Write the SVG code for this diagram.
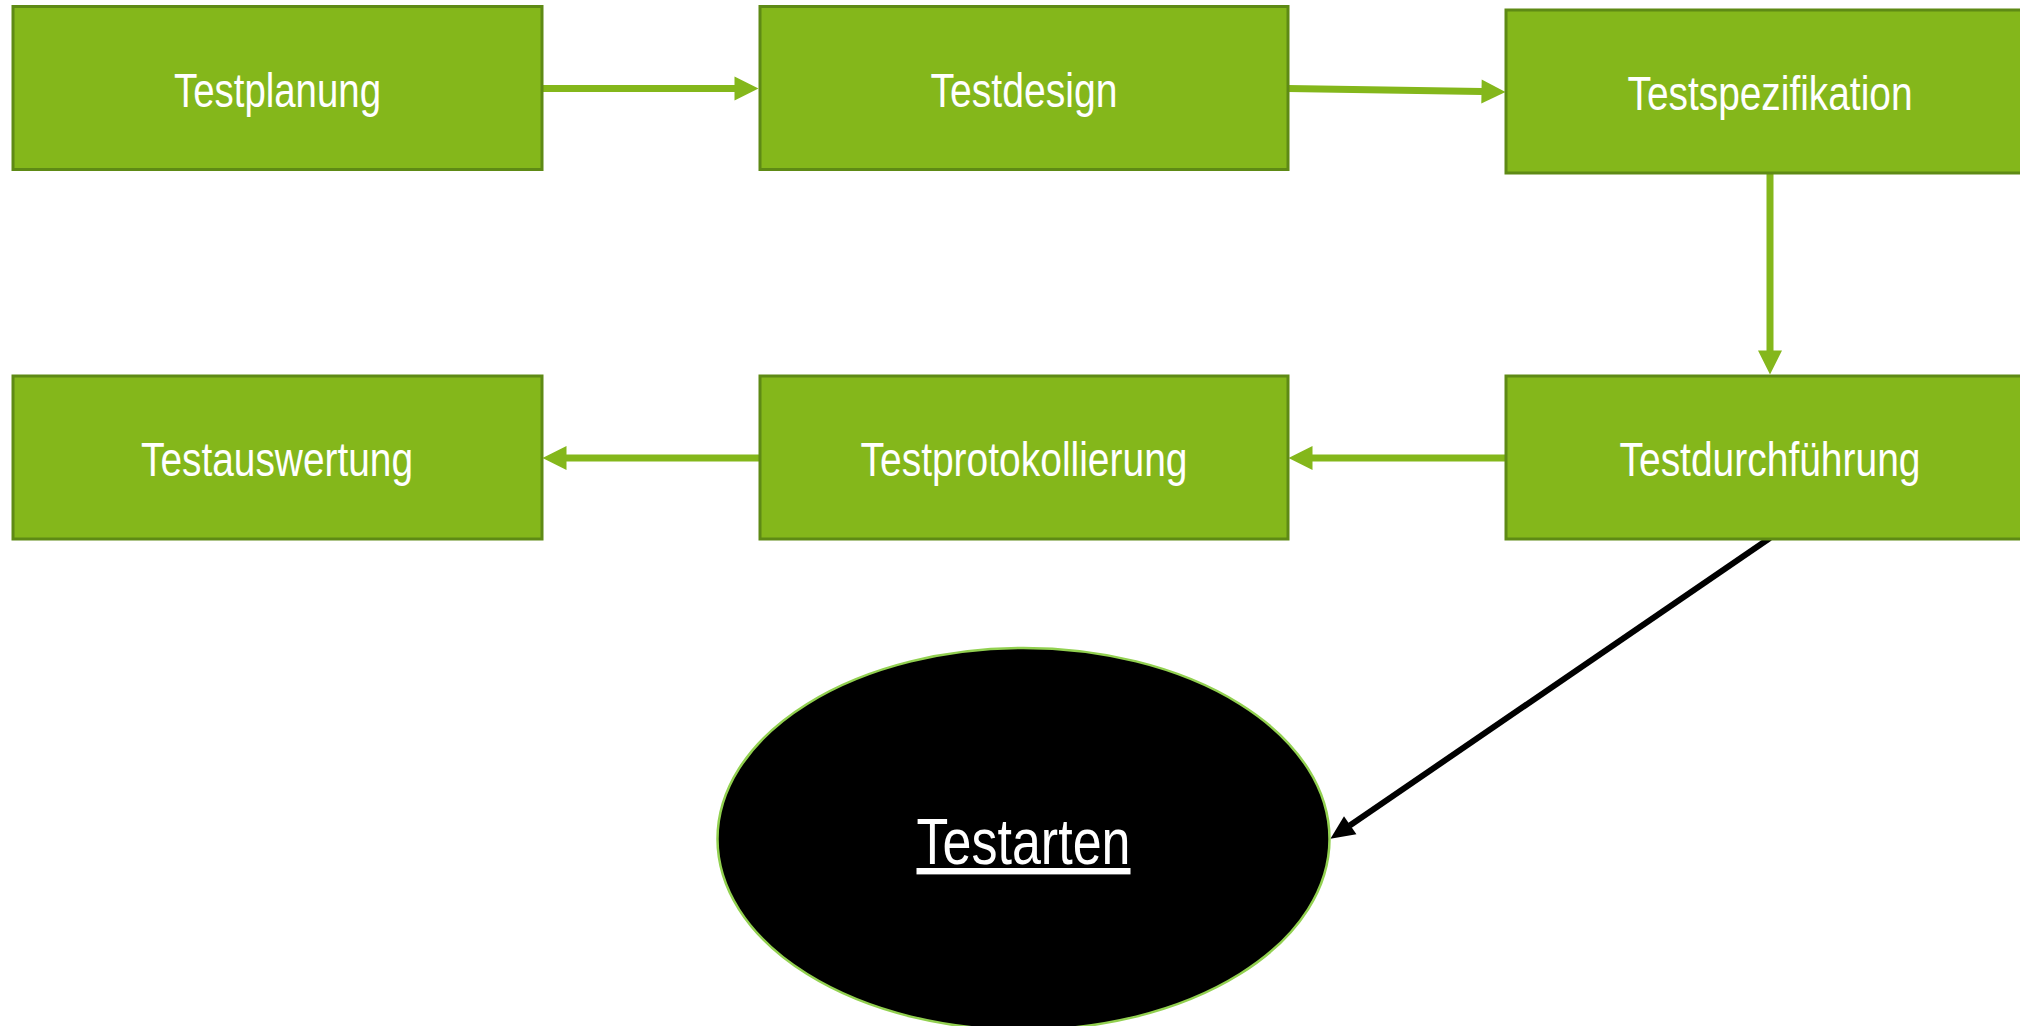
<svg xmlns="http://www.w3.org/2000/svg" width="2020" height="1026" viewBox="0 0 2020 1026">
<style>
.box{fill:#84B71B;stroke:#5E8A15;stroke-width:3}
.lbl{font-family:"Liberation Sans",Arial,sans-serif;font-size:48px;fill:#FFFFFF;text-anchor:middle}
.g{stroke:#84B71B;stroke-width:7;fill:none}
.k{stroke:#000000;stroke-width:6;fill:none}
</style>
<defs>
<marker id="ag" markerUnits="userSpaceOnUse" viewBox="0 0 24 24" refX="0.5" refY="12" markerWidth="24" markerHeight="24" orient="auto" overflow="visible">
<path d="M0,0 L24,12 L0,24 Z" fill="#84B71B"/>
</marker>
<marker id="ak" markerUnits="userSpaceOnUse" viewBox="0 0 24 22" refX="0.5" refY="11" markerWidth="24" markerHeight="22" orient="auto" overflow="visible">
<path d="M0,0 L24,11 L0,22 Z" fill="#000000"/>
</marker>
</defs>
<rect width="2020" height="1026" fill="#FFFFFF"/>
<g id="connectors">
<line class="g" x1="542" y1="88.5" x2="735" y2="88.5" marker-end="url(#ag)"/>
<line class="g" x1="1288" y1="88.5" x2="1482" y2="91.6" marker-end="url(#ag)"/>
<line class="g" x1="1770" y1="173" x2="1770" y2="351" marker-end="url(#ag)"/>
<line class="g" x1="1506" y1="458" x2="1312" y2="458" marker-end="url(#ag)"/>
<line class="g" x1="760" y1="458" x2="566" y2="458" marker-end="url(#ag)"/>
<line class="k" x1="1770" y1="538" x2="1349.8" y2="825.5" marker-end="url(#ak)"/>
</g>
<g id="n1"><rect class="box" x="13" y="6.5" width="529" height="163"/><text class="lbl" x="277.5" y="107" textLength="207" lengthAdjust="spacingAndGlyphs">Testplanung</text></g>
<g id="n2"><rect class="box" x="760" y="6.5" width="528" height="163"/><text class="lbl" x="1024" y="107" textLength="187" lengthAdjust="spacingAndGlyphs">Testdesign</text></g>
<g id="n3"><rect class="box" x="1506" y="10" width="530" height="163"/><text class="lbl" x="1770" y="110" textLength="285" lengthAdjust="spacingAndGlyphs">Testspezifikation</text></g>
<g id="n4"><rect class="box" x="13" y="376" width="529" height="163"/><text class="lbl" x="277" y="476" textLength="272" lengthAdjust="spacingAndGlyphs">Testauswertung</text></g>
<g id="n5"><rect class="box" x="760" y="376" width="528" height="163"/><text class="lbl" x="1024" y="476" textLength="327" lengthAdjust="spacingAndGlyphs">Testprotokollierung</text></g>
<g id="n6"><rect class="box" x="1506" y="376" width="530" height="163"/><text class="lbl" x="1770" y="476" textLength="301" lengthAdjust="spacingAndGlyphs">Testdurchführung</text></g>
<g id="n7"><ellipse cx="1023.5" cy="839" rx="306" ry="191" fill="#000000" stroke="#92D050" stroke-width="2.5"/><text x="1023.5" y="864" font-family="Liberation Sans, Arial, sans-serif" font-size="64" fill="#FFFFFF" text-anchor="middle" text-decoration="underline" textLength="214" lengthAdjust="spacingAndGlyphs">Testarten</text></g>
</svg>
